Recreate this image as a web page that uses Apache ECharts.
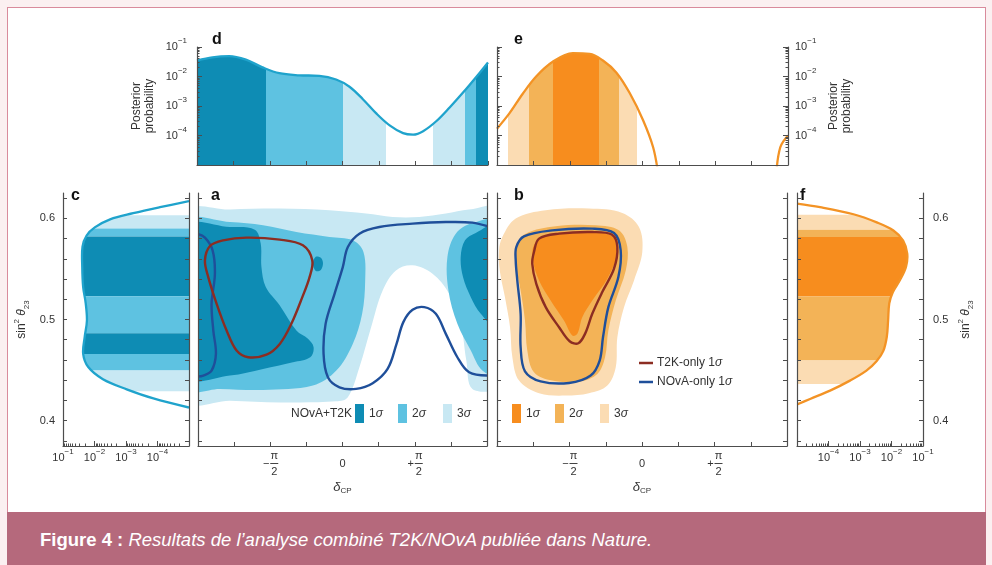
<!DOCTYPE html>
<html>
<head>
<meta charset="utf-8">
<title>T2K / NOvA</title>
<script src="https://cdn.jsdelivr.net/npm/echarts@6.0.0/dist/echarts.min.js"></script>
<style>
  html, body { margin: 0; padding: 0; }
  body { width: 992px; height: 565px; background: #fbf0f1; position: relative; overflow: hidden;
         font-family: "Liberation Sans", Arial, sans-serif; }
  #frame { position: absolute; left: 7px; top: 7px; width: 977px; height: 505px; background: #fff;
           border: 1px solid #d98b9c; border-bottom: none; }
  #chart { position: absolute; left: 0; top: 0; width: 992px; height: 512px; }
  #caption { position: absolute; left: 7px; top: 512px; width: 979px; height: 53px; background: #b5697c;
             color: #fff; font-size: 18.5px; line-height: 55px; padding-left: 33px; box-sizing: border-box; }
</style>
</head>
<body>
<div id="frame"></div>
<div id="chart"></div>
<div id="caption"><b>Figure 4 :</b> <i>Resultats de l’analyse combiné T2K/NOvA publiée dans Nature.</i></div>
<script>
// deltaCP is kept in units of pi, sin^2(theta23) as is, probabilities as is
const deltaLabels = [-0.5, 0, 0.5];
const sinTicks = [0.38, 0.40, 0.42, 0.44, 0.46, 0.48, 0.50, 0.52, 0.54, 0.56, 0.58, 0.60, 0.62];
const sinLabels = [0.4, 0.5, 0.6];
const probMajor = [1e-5, 1e-4, 1e-3, 1e-2, 1e-1];
const probLabels = [1e-4, 1e-3, 1e-2, 1e-1];
const probMinor = [];
probMajor.slice(0, -1).forEach(d => { for (let k = 2; k < 10; k++) probMinor.push(+(d * k).toPrecision(3)); });

// d : posterior of deltaCP, NOvA+T2K
const dPosterior = [[-1.0, 0.0347], [-0.894, 0.0447], [-0.779, 0.0490], [-0.664, 0.0372], [-0.550, 0.0204],
  [-0.434, 0.0129], [-0.297, 0.0110], [-0.159, 0.0105], [-0.044, 0.0079], [0.048, 0.0045], [0.140, 0.0017],
  [0.232, 0.00056], [0.324, 0.00022], [0.416, 0.00012], [0.485, 0.000107], [0.554, 0.00014], [0.646, 0.00031],
  [0.738, 0.00091], [0.830, 0.0029], [0.922, 0.010], [1.0, 0.030]];
const dBandEdges = [-1, -0.526, 0.0, 0.30, 0.62, 0.84, 0.92, 1];
const dBandLevels = [1, 2, 3, 0, 3, 2, 1];

// e : posterior of deltaCP, with reactor constraint
const ePosteriorLeft = [[-1.0, 0.00017], [-0.915, 0.00056], [-0.823, 0.0026], [-0.731, 0.010], [-0.617, 0.0316],
  [-0.479, 0.0617], [-0.363, 0.0589], [-0.272, 0.0347], [-0.179, 0.0135], [-0.088, 0.00275], [0.004, 0.00033],
  [0.073, 0.00004], [0.108, 0.000005]];
const ePosteriorRight = [[0.919, 0.000005], [0.947, 0.00004], [1.0, 0.0001]];
const eBandEdges = [-1, -0.927, -0.782, -0.617, -0.30, -0.16, -0.04, 1];
const eBandLevels = [0, 3, 2, 1, 2, 3, 0];

// c, f : posterior of sin^2 theta23  [probability, sin^2]
const cMarginal = [[1e-5, 0.617], [8.3e-5, 0.611], [5.9e-4, 0.605], [3.2e-3, 0.599], [9.8e-3, 0.591],
  [1.78e-2, 0.583], [2.4e-2, 0.572], [2.45e-2, 0.552], [2.29e-2, 0.532], [1.9e-2, 0.516], [1.74e-2, 0.499],
  [2.04e-2, 0.483], [2.29e-2, 0.466], [1.58e-2, 0.453], [5.4e-3, 0.441], [9.5e-4, 0.431], [1.35e-4, 0.422],
  [1e-5, 0.413]];
const cBandEdges = [0.603, 0.590, 0.582, 0.523, 0.4865, 0.466, 0.4495, 0.429];
const cBandLevels = [3, 2, 1, 2, 1, 2, 3];
const fMarginal = [[1e-5, 0.6145], [5.4e-5, 0.611], [6.2e-4, 0.604], [3.4e-3, 0.596], [1.15e-2, 0.588],
  [2.34e-2, 0.578], [3.16e-2, 0.565], [2.88e-2, 0.552], [1.86e-2, 0.539], [1.1e-2, 0.527], [8.5e-3, 0.516],
  [7.8e-3, 0.499], [7.1e-3, 0.483], [5.5e-3, 0.469], [3.4e-3, 0.459], [1.6e-3, 0.4495], [4.8e-4, 0.4396],
  [1.12e-4, 0.4297], [2.6e-5, 0.4215], [1e-5, 0.416]];
const fBandEdges = [0.6036, 0.5888, 0.5815, 0.5228, 0.4594, 0.4363];
const fBandLevels = [3, 2, 1, 2, 3];

// a : credible regions NOvA+T2K  [deltaCP/pi, sin^2]
const aSigma3 = [[-1.08, 0.606], [-0.779, 0.6086], [-0.434, 0.6096], [-0.090, 0.6079], [0.163, 0.6047],
  [0.347, 0.6013], [0.531, 0.6013], [0.715, 0.6047], [0.876, 0.6086], [1.08, 0.609], [1.08, 0.435],
  [0.899, 0.4314], [0.857, 0.4594], [0.818, 0.4957], [0.738, 0.5254], [0.623, 0.5452], [0.485, 0.5535],
  [0.370, 0.5485], [0.278, 0.5287], [0.198, 0.4924], [0.117, 0.4528], [0.037, 0.4231], [-0.043, 0.4191],
  [-0.434, 0.4181], [-0.779, 0.4198], [-1.08, 0.42]];
const aSigma2Left = [[-1.08, 0.596], [-0.779, 0.5963], [-0.550, 0.5931], [-0.319, 0.5864], [-0.090, 0.5815],
  [0.071, 0.5782], [0.145, 0.5667], [0.157, 0.5386], [0.136, 0.5056], [0.071, 0.4759], [-0.043, 0.4495],
  [-0.205, 0.4347], [-0.550, 0.4304], [-0.848, 0.4314], [-1.08, 0.432]];
const aSigma2Right = [[1.08, 0.597], [0.899, 0.5953], [0.784, 0.5848], [0.726, 0.5617], [0.733, 0.5287],
  [0.795, 0.4957], [0.888, 0.4693], [0.968, 0.4495], [1.08, 0.445]];
const aSigma1Left = [[-1.08, 0.5914], [-0.779, 0.5914], [-0.607, 0.5888], [-0.566, 0.5750], [-0.561, 0.5518],
  [-0.531, 0.5320], [-0.434, 0.5139], [-0.319, 0.4891], [-0.239, 0.4809], [-0.200, 0.4726], [-0.223, 0.4627],
  [-0.343, 0.4577], [-0.550, 0.4511], [-0.779, 0.4446], [-1.08, 0.4436]];
const aSigma1Island = [[-0.205, 0.5555], [-0.185, 0.5620], [-0.150, 0.5610], [-0.135, 0.5555], [-0.150, 0.5490],
  [-0.185, 0.5480]];
const aSigma1Right = [[1.08, 0.594], [0.922, 0.5855], [0.848, 0.5782], [0.818, 0.5617], [0.834, 0.5419],
  [0.888, 0.5221], [0.957, 0.5056], [1.08, 0.49]];
const aT2K = [[-0.917, 0.5726], [-0.826, 0.5782], [-0.664, 0.5809], [-0.434, 0.5789], [-0.274, 0.5733],
  [-0.209, 0.5584], [-0.228, 0.5419], [-0.278, 0.5221], [-0.354, 0.4957], [-0.434, 0.4759], [-0.526, 0.4653],
  [-0.653, 0.4627], [-0.733, 0.4693], [-0.802, 0.4891], [-0.871, 0.5155], [-0.929, 0.5419], [-0.952, 0.5584]];
const aNOvAMain = [[1.02, 0.5914], [0.899, 0.5957], [0.715, 0.5963], [0.485, 0.5947], [0.255, 0.5914],
  [0.117, 0.5848], [0.037, 0.5716], [0.002, 0.5518], [-0.055, 0.5254], [-0.117, 0.4957], [-0.131, 0.4660],
  [-0.101, 0.4429], [-0.021, 0.4330], [0.094, 0.4314], [0.209, 0.4370], [0.312, 0.4511], [0.374, 0.4759],
  [0.421, 0.4974], [0.485, 0.5096], [0.566, 0.5122], [0.646, 0.5056], [0.715, 0.4858], [0.795, 0.4627],
  [0.876, 0.4479], [1.02, 0.4446]];
const aNOvALeft = [[-1.01, 0.5848], [-0.952, 0.5809], [-0.899, 0.5683], [-0.883, 0.5452], [-0.906, 0.5155],
  [-0.894, 0.4891], [-0.876, 0.4660], [-0.906, 0.4495], [-0.963, 0.4446], [-1.01, 0.4436]];

// b : credible regions with reactor constraint
const bSigma3 = [[-0.963, 0.5815], [-0.871, 0.5997], [-0.664, 0.6079], [-0.366, 0.6096], [-0.136, 0.6053],
  [-0.021, 0.5914], [0.002, 0.5667], [-0.055, 0.5386], [-0.124, 0.5122], [-0.170, 0.4825], [-0.181, 0.4528],
  [-0.239, 0.4347], [-0.366, 0.4271], [-0.526, 0.4248], [-0.710, 0.4271], [-0.848, 0.4396], [-0.894, 0.4627],
  [-0.910, 0.4924], [-0.945, 0.5221], [-0.981, 0.5485], [-0.986, 0.5683]];
const bSigma2 = [[-0.871, 0.5716], [-0.802, 0.5848], [-0.595, 0.5921], [-0.319, 0.5931], [-0.159, 0.5881],
  [-0.101, 0.5716], [-0.112, 0.5485], [-0.181, 0.5188], [-0.232, 0.4891], [-0.255, 0.4627], [-0.308, 0.4462],
  [-0.434, 0.4386], [-0.619, 0.4396], [-0.745, 0.4479], [-0.791, 0.4693], [-0.807, 0.4990], [-0.837, 0.5287],
  [-0.867, 0.5518]];
const bSigma1 = [[-0.745, 0.5733], [-0.664, 0.5832], [-0.481, 0.5864], [-0.274, 0.5864], [-0.181, 0.5782],
  [-0.177, 0.5617], [-0.239, 0.5403], [-0.343, 0.5188], [-0.412, 0.5023], [-0.446, 0.4858], [-0.481, 0.4842],
  [-0.538, 0.4990], [-0.630, 0.5188], [-0.710, 0.5386], [-0.752, 0.5584]];
const bT2K = [[-0.745, 0.5667], [-0.710, 0.5799], [-0.572, 0.5848], [-0.343, 0.5864], [-0.209, 0.5839],
  [-0.170, 0.5716], [-0.193, 0.5502], [-0.274, 0.5271], [-0.343, 0.5056], [-0.393, 0.4858], [-0.439, 0.4765],
  [-0.499, 0.4785], [-0.572, 0.4924], [-0.664, 0.5122], [-0.729, 0.5353], [-0.757, 0.5551]];
const bNOvA = [[-0.867, 0.5716], [-0.814, 0.5822], [-0.619, 0.5881], [-0.343, 0.5898], [-0.193, 0.5855],
  [-0.147, 0.5683], [-0.163, 0.5419], [-0.232, 0.5122], [-0.269, 0.4825], [-0.292, 0.4594], [-0.354, 0.4446],
  [-0.503, 0.4373], [-0.699, 0.4389], [-0.807, 0.4488], [-0.837, 0.4726], [-0.837, 0.5056], [-0.860, 0.5386],
  [-0.871, 0.5584]];

const sigmaNames = ['1{i|σ}', '2{i|σ}', '3{i|σ}'];

// colours: index = sigma level, 0 = outside
const BLUE = ['#ffffff', '#0e8cb4', '#5ec2e1', '#c8e8f3'];
const ORANGE = ['#ffffff', '#f78d1e', '#f3b357', '#fbdcb3'];
const BLUE_LINE = '#1fa3cc', ORANGE_LINE = '#f39325';
const T2K_RED = '#8c2d22', NOVA_BLUE = '#1f4f9a';
const AXIS = '#4d4d4d', TXT = '#333';
const FONT = '"Liberation Sans", Arial, sans-serif';

const chart = echarts.init(document.getElementById('chart'));

const powRich = { sup: { fontSize: 8, verticalAlign: 'top', fontFamily: FONT, color: TXT } };
function powLabel(v) {
  return '10{sup|−' + Math.round(-Math.log10(v)) + '}';
}
const fracRich = {
  n: { fontSize: 11, lineHeight: 11, width: 8, align: 'center', color: TXT, fontFamily: FONT },
  sp: { width: 8, lineHeight: 11 },
  sg: { fontSize: 11, lineHeight: 5, width: 8, align: 'center', color: TXT, fontFamily: FONT },
  bar: { width: 8, height: 1, lineHeight: 5, backgroundColor: '#444' },
  z: { fontSize: 11, lineHeight: 5, color: TXT, fontFamily: FONT }
};
function deltaLabel(v) {
  if (v === 0) return '{sp| }\n{z|0}\n{sp| }';
  return '{sp| }{n|π}\n{sg|' + (v < 0 ? '−' : '+') + '}{bar| }\n{sp| }{n|2}';
}

function deltaAxis(grid, withLabels) {
  return {
    type: 'value', gridIndex: grid, min: -1, max: 1, interval: 0.25, z: 10, position: 'bottom',
    axisLine: { show: true, onZero: false, lineStyle: { color: AXIS, width: 1.2 } },
    axisTick: { show: true, inside: true, length: 4, lineStyle: { color: AXIS } },
    splitLine: { show: false },
    axisLabel: withLabels
      ? { show: true, customValues: deltaLabels, formatter: deltaLabel, rich: fracRich, margin: 4 }
      : { show: false },
    name: withLabels ? '{d|δ}{sub|CP}' : '',
    nameLocation: 'middle', nameGap: 33,
    nameTextStyle: {
      lineHeight: 16,
      rich: {
        d: { fontSize: 13, fontStyle: 'italic', fontFamily: FONT, color: TXT, lineHeight: 16 },
        sub: { fontSize: 8, verticalAlign: 'bottom', fontFamily: FONT, color: TXT }
      }
    }
  };
}

function probAxis(dim, grid, position, opt) {
  const a = {
    type: 'log', logBase: 10, gridIndex: grid, min: 1e-5, max: 1e-1, z: 10, position: position,
    inverse: !!opt.inverse,
    axisLine: { show: !opt.minor, onZero: false, lineStyle: { color: AXIS, width: 1.2 } },
    axisTick: { show: true, inside: true, length: opt.minor ? 2.5 : 5,
      customValues: opt.minor ? probMinor : probMajor, lineStyle: { color: AXIS } },
    splitLine: { show: false },
    minorTick: { show: false },
    axisLabel: opt.labels
      ? { show: true, customValues: probLabels, formatter: powLabel, rich: powRich, fontSize: 11,
          lineHeight: 20, color: TXT, fontFamily: FONT, margin: opt.margin }
      : { show: false }
  };
  if (opt.name) {
    a.name = opt.name;
    a.nameLocation = 'middle';
    a.nameRotate = 90;
    a.nameGap = opt.nameGap;
    a.nameTextStyle = { fontSize: 12, lineHeight: 13, color: TXT, fontFamily: FONT };
  }
  return a;
}

const sinName = '{t|sin}{sup|2}{t| }{th|θ}{sub|23}';
const sinNameStyle = {
  lineHeight: 18,
  rich: {
    t: { fontSize: 12, fontFamily: FONT, color: TXT },
    sup: { fontSize: 8, verticalAlign: 'top', fontFamily: FONT, color: TXT },
    th: { fontSize: 12, fontStyle: 'italic', fontFamily: FONT, color: TXT },
    sub: { fontSize: 8, verticalAlign: 'bottom', fontFamily: FONT, color: TXT }
  }
};
function sinAxis(grid, position, opt) {
  const a = {
    type: 'value', gridIndex: grid, min: 0.375, max: 0.625, z: 10, position: position,
    axisLine: { show: true, onZero: false, lineStyle: { color: AXIS, width: 1.2 } },
    axisTick: { show: true, inside: true, length: 4, customValues: sinTicks, lineStyle: { color: AXIS } },
    splitLine: { show: false },
    axisLabel: opt.labels
      ? { show: true, customValues: sinLabels, formatter: v => v.toFixed(1), fontSize: 11, color: TXT,
          fontFamily: FONT, margin: opt.margin }
      : { show: false }
  };
  if (opt.name) {
    a.name = sinName;
    a.nameLocation = 'middle';
    a.nameRotate = 90;
    a.nameGap = opt.nameGap;
    a.nameTextStyle = sinNameStyle;
  }
  return a;
}

// custom renderers: all coordinates go through api.coord
function fillRenderer(layers, palette) {
  return function (params, api) {
    const layer = layers[params.dataIndex];
    return {
      type: 'polygon',
      shape: { points: layer.pts.map(p => api.coord(p)), smooth: 0.35 },
      style: { fill: palette[layer.level] }
    };
  };
}
function contourRenderer(lines) {
  return function (params, api) {
    const c = lines[params.dataIndex];
    return {
      type: c.closed ? 'polygon' : 'polyline',
      shape: { points: c.pts.map(p => api.coord(p)), smooth: 0.35 },
      style: { fill: 'none', stroke: c.color, lineWidth: 2.4 }
    };
  };
}
function marginalRenderer(curve, edges, levels, palette, lineColor, outward) {
  return function (params, api) {
    const cs = params.coordSys;
    const pts = curve.map(p => api.coord(p));
    const i = params.dataIndex;
    if (i === levels.length) {
      return { type: 'polyline', shape: { points: pts, smooth: 0.35 },
        style: { fill: 'none', stroke: lineColor, lineWidth: 2.3 } };
    }
    const edgeX = outward > 0 ? cs.x + cs.width + 20 : cs.x - 20;
    const y0 = api.coord([probMajor[0], edges[i]])[1];
    const y1 = api.coord([probMajor[0], edges[i + 1]])[1];
    return {
      type: 'polygon',
      shape: { points: pts.concat([[edgeX, pts[pts.length - 1][1]], [edgeX, pts[0][1]]]), smooth: 0.35 },
      style: { fill: palette[levels[i]] },
      clipPath: { type: 'rect', shape: { x: cs.x - 30, y: Math.min(y0, y1), width: cs.width + 60,
        height: Math.abs(y1 - y0) } }
    };
  };
}

const aFills = [
  { level: 3, pts: aSigma3 }, { level: 2, pts: aSigma2Left }, { level: 2, pts: aSigma2Right },
  { level: 1, pts: aSigma1Left }, { level: 1, pts: aSigma1Island }, { level: 1, pts: aSigma1Right }
];
const aLines = [
  { pts: aNOvAMain, color: NOVA_BLUE }, { pts: aNOvALeft, color: NOVA_BLUE },
  { pts: aT2K, color: T2K_RED, closed: true }
];
const bFills = [{ level: 3, pts: bSigma3 }, { level: 2, pts: bSigma2 }, { level: 1, pts: bSigma1 }];
const bLines = [{ pts: bNOvA, color: NOVA_BLUE, closed: true }, { pts: bT2K, color: T2K_RED, closed: true }];

function bandPieces(edges, levels, palette) {
  return levels.map((lv, i) => (i === levels.length - 1
    ? { gte: edges[i], lte: edges[i + 1], color: palette[lv] }
    : { gte: edges[i], lt: edges[i + 1], color: palette[lv] }));
}

const letter = (t, x, y) => ({ type: 'text', x: x, y: y,
  style: { text: t, fontSize: 16, fontWeight: 'bold', fontFamily: FONT, fill: '#111' } });
const labelText = (t, x, y, align) => ({ type: 'text', x: x, y: y,
  style: { text: t, fontSize: 12, fontFamily: FONT, fill: TXT, align: align || 'left', verticalAlign: 'middle',
    rich: { i: { fontSize: 12, fontStyle: 'italic', fontFamily: FONT, fill: TXT } } } });
const swatch = (x, color) => ({ type: 'rect', shape: { x: x, y: 404, width: 9, height: 19 }, style: { fill: color } });

const option = {
  animation: false,
  textStyle: { fontFamily: FONT },
  grid: [
    { left: 197, top: 47, width: 291, height: 118, outerBoundsMode: 'none' },  // d
    { left: 497, top: 47, width: 291, height: 118, outerBoundsMode: 'none' },  // e
    { left: 63, top: 193, width: 126, height: 253, outerBoundsMode: 'none' },  // c
    { left: 198, top: 193, width: 289, height: 253, outerBoundsMode: 'none' }, // a
    { left: 497, top: 193, width: 290, height: 253, outerBoundsMode: 'none' }, // b
    { left: 797, top: 193, width: 126, height: 253, outerBoundsMode: 'none' }  // f
  ],
  xAxis: [
    deltaAxis(0, false),
    deltaAxis(1, false),
    probAxis('x', 2, 'bottom', { inverse: true, labels: true, margin: 2 }),
    probAxis('x', 2, 'bottom', { inverse: true, minor: true }),
    deltaAxis(3, true),
    deltaAxis(4, true),
    probAxis('x', 5, 'bottom', { labels: true, margin: 2 }),
    probAxis('x', 5, 'bottom', { minor: true })
  ],
  yAxis: [
    probAxis('y', 0, 'left', { labels: true, margin: 10, name: 'Posterior\nprobability', nameGap: 41 }),
    probAxis('y', 0, 'left', { minor: true }),
    probAxis('y', 1, 'left', {}),
    probAxis('y', 1, 'left', { minor: true }),
    probAxis('y', 1, 'right', { labels: true, margin: 7, name: 'Posterior\nprobability', nameGap: 39 }),
    probAxis('y', 1, 'right', { minor: true }),
    sinAxis(2, 'left', { labels: true, margin: 8, name: true, nameGap: 32 }),
    sinAxis(2, 'right', {}),
    sinAxis(3, 'left', {}),
    sinAxis(3, 'right', {}),
    sinAxis(4, 'left', {}),
    sinAxis(4, 'right', {}),
    sinAxis(5, 'left', {}),
    sinAxis(5, 'right', { labels: true, margin: 10, name: true, nameGap: 34 })
  ],
  visualMap: [
    { type: 'piecewise', show: false, seriesIndex: 0, dimension: 0,
      pieces: bandPieces(dBandEdges, dBandLevels, BLUE) },
    { type: 'piecewise', show: false, seriesIndex: [1, 2], dimension: 0,
      pieces: bandPieces(eBandEdges, eBandLevels, ORANGE) }
  ],
  series: [
    { type: 'line', xAxisIndex: 0, yAxisIndex: 0, data: dPosterior, smooth: 0.35, symbol: 'none',
      lineStyle: { color: BLUE_LINE, width: 2.3 }, areaStyle: { origin: 'start', opacity: 1 } },
    { type: 'line', xAxisIndex: 1, yAxisIndex: 2, data: ePosteriorLeft, smooth: 0.35, symbol: 'none',
      lineStyle: { color: ORANGE_LINE, width: 2.3 }, areaStyle: { origin: 'start', opacity: 1 } },
    { type: 'line', xAxisIndex: 1, yAxisIndex: 2, data: ePosteriorRight, smooth: 0.35, symbol: 'none',
      lineStyle: { color: ORANGE_LINE, width: 2.3 }, areaStyle: { origin: 'start', opacity: 1 } },
    { type: 'custom', xAxisIndex: 2, yAxisIndex: 6, clip: true,
      data: cBandLevels.map((lv, i) => [probMajor[0], cBandEdges[i]]).concat([cMarginal[0]]),
      renderItem: marginalRenderer(cMarginal, cBandEdges, cBandLevels, BLUE, BLUE_LINE, 1) },
    { type: 'custom', xAxisIndex: 4, yAxisIndex: 8, clip: true,
      data: aFills.map(l => l.pts[0]), renderItem: fillRenderer(aFills, BLUE) },
    { type: 'custom', xAxisIndex: 4, yAxisIndex: 8, clip: true,
      data: aLines.map(l => l.pts[0]), renderItem: contourRenderer(aLines) },
    { type: 'custom', xAxisIndex: 5, yAxisIndex: 10, clip: true,
      data: bFills.map(l => l.pts[0]), renderItem: fillRenderer(bFills, ORANGE) },
    { type: 'custom', xAxisIndex: 5, yAxisIndex: 10, clip: true,
      data: bLines.map(l => l.pts[0]), renderItem: contourRenderer(bLines) },
    { type: 'custom', xAxisIndex: 6, yAxisIndex: 12, clip: true,
      data: fBandLevels.map((lv, i) => [probMajor[0], fBandEdges[i]]).concat([fMarginal[0]]),
      renderItem: marginalRenderer(fMarginal, fBandEdges, fBandLevels, ORANGE, ORANGE_LINE, -1) }
  ],
  graphic: {
    elements: [
      letter('d', 212, 32), letter('e', 514, 32), letter('c', 71, 188),
      letter('a', 211, 188), letter('b', 514, 188), letter('f', 800, 188),
      labelText('NOvA+T2K', 352, 414, 'right'),
      swatch(355, BLUE[1]), labelText(sigmaNames[0], 369, 414),
      swatch(398, BLUE[2]), labelText(sigmaNames[1], 412, 414),
      swatch(443, BLUE[3]), labelText(sigmaNames[2], 457, 414),
      swatch(512, ORANGE[1]), labelText(sigmaNames[0], 526, 414),
      swatch(555, ORANGE[2]), labelText(sigmaNames[1], 569, 414),
      swatch(600, ORANGE[3]), labelText(sigmaNames[2], 614, 414),
      { type: 'line', shape: { x1: 639, y1: 363, x2: 653, y2: 363 }, style: { stroke: T2K_RED, lineWidth: 2.5 } },
      labelText('T2K-only 1{i|σ}', 657, 363),
      { type: 'line', shape: { x1: 639, y1: 382, x2: 653, y2: 382 }, style: { stroke: NOVA_BLUE, lineWidth: 2.5 } },
      labelText('NOvA-only 1{i|σ}', 657, 382)
    ]
  }
};
chart.setOption(option);
window.addEventListener('resize', () => chart.resize());
</script>
</body>
</html>
